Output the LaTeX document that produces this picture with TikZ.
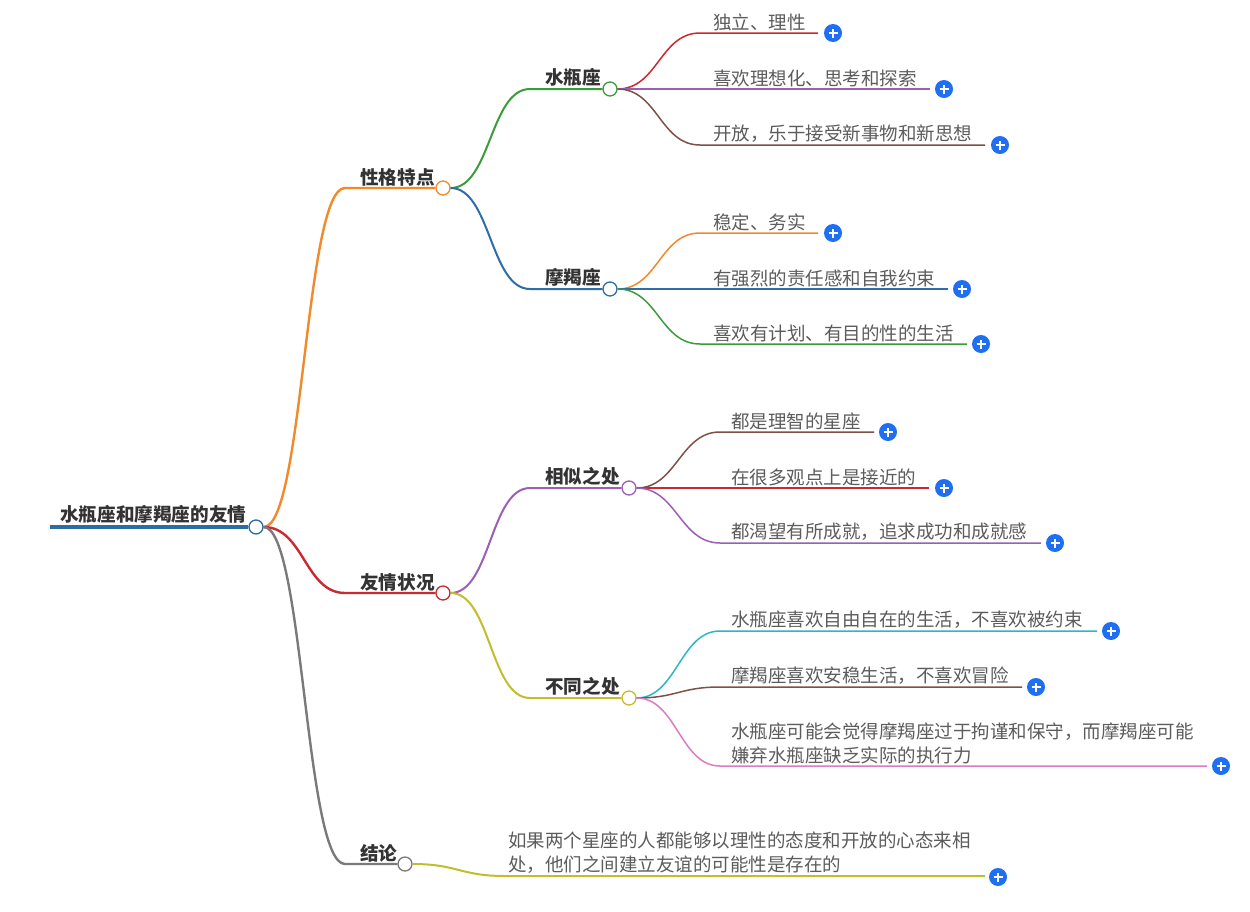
\documentclass[tikz,border=0pt]{standalone}
\usepackage{fontspec}
\setmainfont{Noto Sans CJK SC}
\definecolor{cRoot}{HTML}{2B6CA3}
\definecolor{cOrange}{HTML}{F2892B}
\definecolor{cRed}{HTML}{C9292F}
\definecolor{cGray}{HTML}{7A7A7A}
\definecolor{cGreen}{HTML}{3C9B3C}
\definecolor{cBlue}{HTML}{2E6DA6}
\definecolor{cPurple}{HTML}{9C5FB5}
\definecolor{cOlive}{HTML}{C3BC2C}
\definecolor{cBrown}{HTML}{7E5145}
\definecolor{cCyan}{HTML}{2DB7C1}
\definecolor{cPink}{HTML}{DD7BC3}
\definecolor{cPlus}{HTML}{1F6FF0}
\definecolor{tDark}{HTML}{333333}
\definecolor{tLight}{HTML}{5C5C5C}
\begin{document}
\begin{tikzpicture}[x=1pt,y=-1pt,
  dot/.style={circle,draw=#1,fill=white,line width=1.3pt,minimum size=14pt,inner sep=0pt},
  plusbtn/.style={circle,fill=cPlus,minimum size=18pt,inner sep=0pt,
    path picture={\draw[white,line width=1.6pt]
      ([xshift=-4.5pt]path picture bounding box.center) -- ([xshift=4.5pt]path picture bounding box.center)
      ([yshift=-4.5pt]path picture bounding box.center) -- ([yshift=4.5pt]path picture bounding box.center);}},
  main/.style={font=\fontsize{18.6}{22}\selectfont\bfseries, text=tDark, inner sep=0pt, anchor=south west},
  leaf/.style={font=\fontsize{18.5}{24}\selectfont, text=tLight, inner sep=0pt, anchor=south west, align=left},
  e0/.style={line width=4pt},
  e1/.style={line width=2.4pt},
  e2/.style={line width=2pt},
  e3/.style={line width=1.5pt},
]
\useasboundingbox[fill=white] (0,0) rectangle (1250,911);

% root
\node[dot=cRoot] (c0) at (256,527) {};
\node[main] (t0) at (60,524) {水瓶座和摩羯座的友情};
\coordinate (u0) at (50,527);
\draw[e0,cRoot] (u0) -- (c0.west);

% level 1
\node[dot=cOrange] (c1) at (443,188) {};
\node[main] (t1) at (360,186) {性格特点};
\coordinate (s1) at (345,188);
\draw[e1,cOrange] (c0.east) .. controls +(40,0) and +(-40,0) .. (s1) -- (c1.west);

\node[dot=cRed] (c2) at (443,593) {};
\node[main] (t2) at (360,591) {友情状况};
\coordinate (s2) at (345,593);
\draw[e1,cRed] (c0.east) .. controls +(40,0) and +(-40,0) .. (s2) -- (c2.west);

\node[dot=cGray] (c3) at (405,864) {};
\node[main] (t3) at (360,862) {结论};
\coordinate (s3) at (345,864);
\draw[e1,cGray] (c0.east) .. controls +(40,0) and +(-40,0) .. (s3) -- (c3.west);

% level 2
\node[dot=cGreen] (c11) at (610,89) {};
\node[main] (t11) at (545,87) {水瓶座};
\coordinate (s11) at (530,89);
\draw[e2,cGreen] (c1.east) .. controls +(40,0) and +(-40,0) .. (s11) -- (c11.west);

\node[dot=cBlue] (c12) at (610,289) {};
\node[main] (t12) at (545,287) {摩羯座};
\coordinate (s12) at (530,289);
\draw[e2,cBlue] (c1.east) .. controls +(40,0) and +(-40,0) .. (s12) -- (c12.west);

\node[dot=cPurple] (c21) at (629,488) {};
\node[main] (t21) at (545,486) {相似之处};
\coordinate (s21) at (530,488);
\draw[e2,cPurple] (c2.east) .. controls +(40,0) and +(-40,0) .. (s21) -- (c21.west);

\node[dot=cOlive] (c22) at (629,698) {};
\node[main] (t22) at (545,696) {不同之处};
\coordinate (s22) at (530,698);
\draw[e2,cOlive] (c2.east) .. controls +(40,0) and +(-40,0) .. (s22) -- (c22.west);

% level 3 : 水瓶座
\coordinate (s111) at (700,33);  \coordinate (e111) at (818,33);
\node[leaf] (t111) at (713,31) {独立、理性};
\node[plusbtn] (p111) at (833,33) {};
\draw[e3,cRed] (c11.east) .. controls +(40,0) and +(-40,0) .. (s111) -- (e111);

\coordinate (s112) at (700,89);  \coordinate (e112) at (930,89);
\node[leaf] (t112) at (713,87) {喜欢理想化、思考和探索};
\node[plusbtn] (p112) at (944,89) {};
\draw[e3,cPurple] (c11.east) .. controls +(40,0) and +(-40,0) .. (s112) -- (e112);

\coordinate (s113) at (700,145);  \coordinate (e113) at (985,145);
\node[leaf] (t113) at (713,143) {开放，乐于接受新事物和新思想};
\node[plusbtn] (p113) at (1000,145) {};
\draw[e3,cBrown] (c11.east) .. controls +(40,0) and +(-40,0) .. (s113) -- (e113);

% level 3 : 摩羯座
\coordinate (s121) at (700,233);  \coordinate (e121) at (818,233);
\node[leaf] (t121) at (713,231) {稳定、务实};
\node[plusbtn] (p121) at (833,233) {};
\draw[e3,cOrange] (c12.east) .. controls +(40,0) and +(-40,0) .. (s121) -- (e121);

\coordinate (s122) at (700,289);  \coordinate (e122) at (948,289);
\node[leaf] (t122) at (713,287) {有强烈的责任感和自我约束};
\node[plusbtn] (p122) at (962,289) {};
\draw[e3,cBlue] (c12.east) .. controls +(40,0) and +(-40,0) .. (s122) -- (e122);

\coordinate (s123) at (700,344);  \coordinate (e123) at (967,344);
\node[leaf] (t123) at (713,342) {喜欢有计划、有目的性的生活};
\node[plusbtn] (p123) at (981,344) {};
\draw[e3,cGreen] (c12.east) .. controls +(40,0) and +(-40,0) .. (s123) -- (e123);

% level 3 : 相似之处
\coordinate (s211) at (720,432);  \coordinate (e211) at (874,432);
\node[leaf] (t211) at (731,430) {都是理智的星座};
\node[plusbtn] (p211) at (888,432) {};
\draw[e3,cBrown] (c21.east) .. controls +(40,0) and +(-40,0) .. (s211) -- (e211);

\coordinate (s212) at (720,488);  \coordinate (e212) at (929,488);
\node[leaf] (t212) at (731,486) {在很多观点上是接近的};
\node[plusbtn] (p212) at (944,488) {};
\draw[e3,cRed] (c21.east) .. controls +(40,0) and +(-40,0) .. (s212) -- (e212);

\coordinate (s213) at (720,543);  \coordinate (e213) at (1041,543);
\node[leaf] (t213) at (731,541) {都渴望有所成就，追求成功和成就感};
\node[plusbtn] (p213) at (1055,543) {};
\draw[e3,cPurple] (c21.east) .. controls +(40,0) and +(-40,0) .. (s213) -- (e213);

% level 3 : 不同之处
\coordinate (s221) at (720,631);  \coordinate (e221) at (1097,631);
\node[leaf] (t221) at (731,629) {水瓶座喜欢自由自在的生活，不喜欢被约束};
\node[plusbtn] (p221) at (1111,631) {};
\draw[e3,cCyan] (c22.east) .. controls +(40,0) and +(-40,0) .. (s221) -- (e221);

\coordinate (s222) at (720,687);  \coordinate (e222) at (1022,687);
\node[leaf] (t222) at (731,685) {摩羯座喜欢安稳生活，不喜欢冒险};
\node[plusbtn] (p222) at (1036,687) {};
\draw[e3,cBrown] (c22.east) .. controls +(40,0) and +(-40,0) .. (s222) -- (e222);

\coordinate (s223) at (720,766);  \coordinate (e223) at (1207,766);
\node[leaf] (t223) at (731,764) {水瓶座可能会觉得摩羯座过于拘谨和保守，而摩羯座可能\\嫌弃水瓶座缺乏实际的执行力};
\node[plusbtn] (p223) at (1221,766) {};
\draw[e3,cPink] (c22.east) .. controls +(40,0) and +(-40,0) .. (s223) -- (e223);

% level 2 : 结论
\coordinate (s31) at (505,876);  \coordinate (e31) at (985,876);
\node[leaf] (t31) at (508,874) {如果两个星座的人都能够以理性的态度和开放的心态来相\\处，他们之间建立友谊的可能性是存在的};
\node[plusbtn] (p31) at (998,877) {};
\draw[e2,cOlive] (c3.east) .. controls +(45,0) and +(-45,0) .. (s31) -- (e31);
\end{tikzpicture}
\end{document}
